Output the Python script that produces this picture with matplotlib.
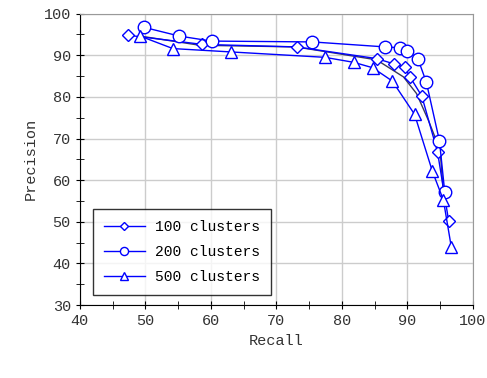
import matplotlib.pyplot as plt
import numpy as np

plt.rcParams["font.family"] = ["Liberation Mono", "DejaVu Sans Mono"]

recall_100 = [47.4, 58.7, 73.1, 85.3, 88.0, 89.6, 90.4, 92.2, 94.6, 96.3]
prec_100 = [94.8, 92.6, 92.0, 89.2, 87.9, 87.1, 84.8, 80.2, 66.8, 50.2]

recall_200 = [49.8, 55.2, 60.1, 75.5, 86.6, 88.8, 90.0, 91.6, 92.9, 94.9, 95.7]
prec_200 = [96.7, 94.6, 93.4, 93.2, 92.0, 91.8, 91.0, 89.2, 83.5, 69.4, 57.2]

recall_500 = [49.2, 54.2, 63.0, 77.4, 81.8, 84.7, 87.7, 91.1, 93.8, 95.5, 96.7]
prec_500 = [94.6, 91.6, 90.8, 89.5, 88.3, 87.0, 83.8, 75.8, 62.2, 55.2, 44.0]

# thin dark curve running alongside the 100-cluster series
trend_x = [49.2, 58.3, 73.0, 85.3, 89.4, 91.4, 93.2, 95.0, 95.5]
trend_y = [94.6, 92.4, 92.0, 88.9, 84.8, 80.8, 74.4, 67.2, 56.8]

fig = plt.figure(figsize=(4.87, 3.78), dpi=100)
ax = fig.add_axes([0.164, 0.193, 0.807, 0.771])

ax.plot(trend_x, trend_y, color="#3a3a5a", lw=1.0, zorder=2)

style = dict(color="blue", lw=1.0, mfc="white", mec="blue", mew=1.0, zorder=3)
ax.plot(recall_100, prec_100, marker="D", ms=6.5, label="100 clusters", **style)
ax.plot(recall_200, prec_200, marker="o", ms=9, label="200 clusters", **style)
ax.plot(recall_500, prec_500, marker="^", ms=8, label="500 clusters", **style)

ax.set_xlim(40, 100)
ax.set_ylim(30, 100)
ax.set_xticks(np.arange(40, 101, 10))
ax.set_xticks(np.arange(45, 100, 10), minor=True)
ax.set_yticks(np.arange(30, 101, 10))
ax.set_yticks(np.arange(35, 100, 10), minor=True)
ax.tick_params(which="both", direction="inout", length=6, labelsize=11,
               labelcolor="#333333")
ax.grid(True, color="#cccccc", lw=1.0, which="major")
ax.set_axisbelow(True)
for s in ["top", "right"]:
    ax.spines[s].set_color("#999999")
ax.set_xlabel("Recall", fontsize=11, color="#333333")
ax.set_ylabel("Precision", fontsize=11, color="#333333")

leg = ax.legend(loc="lower left", bbox_to_anchor=(0.033, 0.034), fontsize=10.5,
                fancybox=False, edgecolor="black", handlelength=2.8,
                markerscale=0.65, borderpad=0.75, labelspacing=0.75,
                handletextpad=0.7, borderaxespad=0)
leg.get_frame().set_linewidth(1.0)

fig.savefig("out.png", dpi=100)
